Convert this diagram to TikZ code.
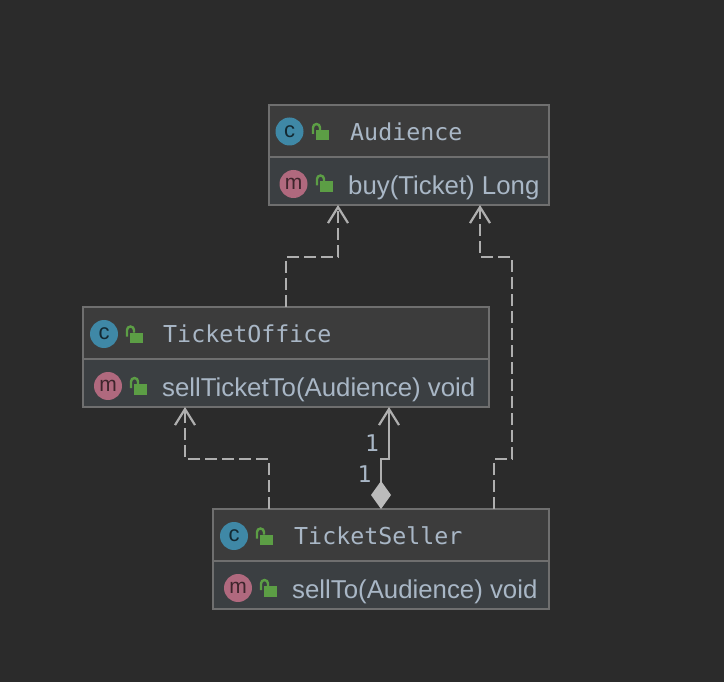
\documentclass[tikz,border=0pt]{standalone}
\usepackage{fontspec}
\setmainfont{Liberation Sans}
\setmonofont{DejaVu Sans Mono}
\usetikzlibrary{arrows.meta, positioning}
\definecolor{bgdark}{HTML}{2B2B2B}
\definecolor{headfill}{HTML}{3C3C3C}
\definecolor{memberfill}{HTML}{3B3F42}
\definecolor{border}{HTML}{6F6F6F}
\definecolor{textblue}{HTML}{A9B7C6}
\definecolor{linegray}{HTML}{AFAFAF}
\definecolor{diamondgray}{HTML}{BBBBBB}
\definecolor{iconblue}{HTML}{3F88A6}
\definecolor{iconred}{HTML}{B0697E}
\definecolor{lockgreen}{HTML}{5C9E45}
\tikzset{
    header/.style={draw=border, line width=2pt, fill=headfill, minimum height=52pt, anchor=north west, outer sep=0pt, inner sep=0pt},
    member/.style={draw=border, line width=2pt, fill=memberfill, minimum height=48pt, anchor=north west, outer sep=0pt, inner sep=0pt},
    classicon/.style={circle, fill=iconblue, minimum size=28pt, inner sep=0pt, text=black!70!iconblue, font=\fontsize{22}{22}\selectfont},
    methodicon/.style={circle, fill=iconred, minimum size=28pt, inner sep=0pt, text=black!65!iconred, font=\fontsize{21}{21}\selectfont},
    title/.style={anchor=west, inner sep=0pt, text=textblue, font=\ttfamily\fontsize{23.3}{24}\selectfont},
    method/.style={anchor=west, inner sep=0pt, text=textblue, font=\fontsize{25.8}{27}\selectfont},
    multi/.style={inner sep=0pt, text=textblue, font=\ttfamily\fontsize{23}{24}\selectfont},
    dependency/.style={draw=linegray, line width=2.2pt, dash pattern=on 12pt off 5pt, -{Straight Barb[length=16pt, width=20pt]}},
    composition/.style={draw=linegray, line width=2.2pt, {Diamond[length=28pt, width=20pt, fill=diamondgray, color=diamondgray]}-{Straight Barb[length=16pt, width=20pt]}},
    lock/.pic={
        \fill[lockgreen] (0,0) rectangle (12.5,10.5);
        \draw[lockgreen, line width=2.4pt] (-3,4) -- (-3,-2.5) arc[start angle=180, end angle=360, radius=3.5] -- (4,0);
    }
}

\begin{document}
\begin{tikzpicture}[x=1pt, y=-1pt]
    \useasboundingbox (0,0) rectangle (724,682);
    \fill[bgdark] (0,0) rectangle (724,682);

    % classes
    \node[header, minimum width=280pt] (audience) at (269,105) {};
    \node[member, minimum width=280pt] (audienceM) at (269,157) {};
    \node[header, minimum width=406pt] (office) at (83,307) {};
    \node[member, minimum width=406pt] (officeM) at (83,359) {};
    \node[header, minimum width=336pt] (seller) at (213,509) {};
    \node[member, minimum width=336pt] (sellerM) at (213,561) {};

    % Audience
    \node[classicon] (audienceC) at (289.5,131.5) {c};
    \pic at (316,130) {lock};
    \node[title] (audienceT) at (350,131.5) {Audience};
    \node[methodicon] (audienceI) at (293.5,184) {m};
    \pic at (320,181.5) {lock};
    \node[method] (audienceB) at (348,188) {buy(Ticket) Long};

    % TicketOffice
    \node[classicon] (officeC) at (104,334) {c};
    \pic at (130,332.5) {lock};
    \node[title] (officeT) at (163,333.5) {TicketOffice};
    \node[methodicon] (officeI) at (108,386) {m};
    \pic at (134,384) {lock};
    \node[method] (officeB) at (162,390) {sellTicketTo(Audience) void};

    % TicketSeller
    \node[classicon] (sellerC) at (234,536) {c};
    \pic at (260,534.5) {lock};
    \node[title] (sellerT) at (294,535.5) {TicketSeller};
    \node[methodicon] (sellerI) at (238,588) {m};
    \pic at (264,586) {lock};
    \node[method] (sellerB) at (292,592) {sellTo(Audience) void};

    % multiplicities
    \node[multi] (multiA) at (372,443) {1};
    \node[multi] (multiB) at (364.5,474) {1};

    % connectors
    \draw[dependency] ([xshift=203pt]office.north west) -- ++(0,-50) -| ([xshift=69pt]audienceM.south west);
    \draw[dependency] ([xshift=281pt]seller.north west) -- ++(0,-50) -- ++(18,0) -- ++(0,-202) -| ([xshift=211pt]audienceM.south west);
    \draw[dependency] ([xshift=56pt]seller.north west) -- ++(0,-50) -| ([xshift=102pt]officeM.south west);
    \draw[composition] ([xshift=168pt]seller.north west) -- ++(0,-50) -| ([xshift=306pt]officeM.south west);
\end{tikzpicture}
\end{document}
